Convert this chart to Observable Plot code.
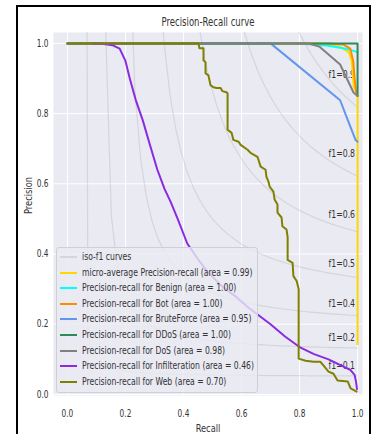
<!DOCTYPE html>
<html><head><meta charset="utf-8">
<script src="https://cdn.jsdelivr.net/npm/d3@7"></script>
<script src="https://cdn.jsdelivr.net/npm/@observablehq/plot@0.6"></script>
<style>
html,body{margin:0;padding:0;background:#fff;width:373px;height:434px;overflow:hidden;font-family:"DejaVu Sans",sans-serif;}
#wrap{position:relative;width:373px;height:434px;}
#chart{position:absolute;left:0;top:0;}
#frame{position:absolute;left:16px;top:5px;width:355px;height:460px;border:2px solid #000;box-sizing:border-box;pointer-events:none;}
#legend{position:absolute;left:56px;top:247px;width:202px;height:146px;box-sizing:border-box;border:1px solid #cfcfd4;border-radius:3px;background:rgba(234,234,242,0.8);padding-top:1px;}
.row{position:relative;height:15.6px;}
.hdl{position:absolute;left:3px;top:7px;width:17px;height:2px;}
.lbl{position:absolute;left:25px;top:0;line-height:15.6px;font-size:10.4px;color:#333;white-space:nowrap;transform:scaleX(0.74);transform-origin:0 50%;}
</style></head>
<body><div id="wrap"><div id="chart"></div><div id="legend"></div><div id="frame"></div></div>
<script>
// ---- data ----
const xTicks = [0, 0.2, 0.4, 0.6, 0.8, 1.0];
const yTicks = [0, 0.2, 0.4, 0.6, 0.8, 1.0];
const f1Scores = [0.1, 0.2333, 0.3667, 0.5, 0.6333, 0.7667, 0.9];
const f1Labels = ["f1=0.1", "f1=0.2", "f1=0.4", "f1=0.5", "f1=0.6", "f1=0.8", "f1=0.9"];

const seriesNames = ["micro-average Precision-recall (area = 0.99)",
  "Precision-recall for Benign (area = 1.00)",
  "Precision-recall for Bot (area = 1.00)",
  "Precision-recall for BruteForce (area = 0.95)",
  "Precision-recall for DDoS (area = 1.00)",
  "Precision-recall for DoS (area = 0.98)",
  "Precision-recall for Infilteration (area = 0.46)",
  "Precision-recall for Web (area = 0.70)"];
const seriesColors = ["#FFD700", "#00FFFF", "#FF8C00", "#6495ED", "#2E8B57", "#808080", "#8A2BE2", "#808000"];

const microRecall = [0, 0.85, 0.9, 0.94, 0.97, 0.98, 0.987, 0.997, 1.0, 1.0];
const microPrecision = [1, 1, 0.998, 0.99, 0.975, 0.95, 0.876, 0.862, 0.85, 0.143];
const benignRecall = [0, 0.8, 0.9, 0.96, 1.0];
const benignPrecision = [1, 1, 0.993, 0.985, 0.975];
const botRecall = [0, 0.9, 0.95, 0.975, 0.985, 0.99, 0.995];
const botPrecision = [1, 1, 0.997, 0.985, 0.95, 0.9, 0.86];
const bruteRecall = [0, 0.70, 0.94, 0.966, 0.993, 1.0];
const brutePrecision = [1, 1, 0.838, 0.782, 0.725, 0.72];
const ddosRecall = [0, 1.0, 1.0];
const ddosPrecision = [1, 1, 0.85];
const dosRecall = [0, 0.83, 0.87, 0.94, 0.986, 1.0];
const dosPrecision = [1, 1, 0.99, 0.94, 0.86, 0.85];
const infilRecall = [0.085, 0.12, 0.155, 0.18, 0.2, 0.215, 0.235, 0.26, 0.286, 0.31, 0.335, 0.355, 0.38, 0.413, 0.45, 0.483, 0.53, 0.586, 0.62, 0.66, 0.7, 0.75, 0.8, 0.85, 0.9, 0.95, 0.976, 0.99, 0.995, 0.998];
const infilPrecision = [1.0, 0.999, 0.995, 0.985, 0.95, 0.9, 0.84, 0.78, 0.706, 0.64, 0.585, 0.55, 0.5, 0.43, 0.385, 0.35, 0.31, 0.275, 0.25, 0.225, 0.2, 0.165, 0.135, 0.115, 0.1, 0.08, 0.069, 0.055, 0.035, 0.015];
const webRecall = [0, 0.452, 0.455, 0.469, 0.469, 0.476, 0.476, 0.486, 0.493, 0.503, 0.514, 0.528, 0.534, 0.548, 0.552, 0.552, 0.566, 0.572, 0.590, 0.597, 0.621, 0.631, 0.655, 0.666, 0.683, 0.686, 0.693, 0.697, 0.710, 0.714, 0.724, 0.724, 0.738, 0.741, 0.755, 0.759, 0.759, 0.776, 0.779, 0.79, 0.797, 0.797, 0.821, 0.848, 0.872, 0.883, 0.900, 0.917, 0.931, 0.966, 0.976, 0.997];
const webPrecision = [1, 1, 0.986, 0.986, 0.952, 0.946, 0.915, 0.909, 0.881, 0.875, 0.873, 0.873, 0.864, 0.861, 0.858, 0.754, 0.745, 0.725, 0.720, 0.711, 0.697, 0.688, 0.677, 0.649, 0.640, 0.620, 0.606, 0.592, 0.578, 0.555, 0.541, 0.518, 0.504, 0.479, 0.470, 0.448, 0.383, 0.375, 0.337, 0.323, 0.300, 0.102, 0.096, 0.093, 0.093, 0.082, 0.065, 0.059, 0.040, 0.037, 0.017, 0.008];

const seriesRecall = [microRecall, benignRecall, botRecall, bruteRecall, ddosRecall, dosRecall, infilRecall, webRecall];
const seriesPrecision = [microPrecision, benignPrecision, botPrecision, brutePrecision, ddosPrecision, dosPrecision, infilPrecision, webPrecision];

// ---- build tables ----
const isoX = d3.range(50).map(i => 0.01 + i * 0.99 / 49);
const isoData = [];
const isoLabelData = [];
f1Scores.forEach((f, k) => {
  isoX.forEach(x => { const y = f * x / (2 * x - f); if (y >= 0) isoData.push({f, r: x, p: y}); });
  const x45 = isoX[45];
  isoLabelData.push({r: 0.9, p: f * x45 / (2 * x45 - f) + 0.02, t: f1Labels[k]});
});
const prMarks = seriesRecall.map((R, k) =>
  Plot.line(R.map((r, i) => ({r, p: seriesPrecision[k][i]})), {x: "r", y: "p", stroke: seriesColors[k], strokeWidth: 2, clip: true}));

const plot = Plot.plot({
  width: 373, height: 434,
  marginLeft: 53, marginRight: 11, marginTop: 32, marginBottom: 39,
  style: {fontFamily: "DejaVu Sans", fontSize: "10px", color: "#333", background: "transparent"},
  x: {domain: [-0.048, 1.017], label: null},
  y: {domain: [-0.003, 1.031], label: null},
  marks: [
    Plot.frame({fill: "#EAEAF2", stroke: null}),
    Plot.gridX(xTicks, {stroke: "#fff", strokeOpacity: 1, strokeWidth: 1}),
    Plot.gridY(yTicks, {stroke: "#fff", strokeOpacity: 1, strokeWidth: 1}),
    Plot.line(isoData, {x: "r", y: "p", z: "f", stroke: "gray", strokeOpacity: 0.2, strokeWidth: 1.2, clip: true}),
    Plot.text(isoLabelData, {x: "r", y: "p", text: "t", textAnchor: "start", lineAnchor: "bottom", fontSize: 10.5, fill: "#333"}),
    ...prMarks,
    Plot.axisX(xTicks, {tickSize: 0, tickPadding: 14, tickFormat: d3.format(".1f"), label: null, fontSize: 10}),
    Plot.axisY(yTicks, {tickSize: 0, tickPadding: 5, tickFormat: d3.format(".1f"), label: null, fontSize: 10}),
    Plot.text(["Precision-Recall curve"], {frameAnchor: "top", text: d => d, dy: -10, lineAnchor: "middle", fontSize: 11.5, fill: "#333"}),
    Plot.text(["Recall"], {frameAnchor: "bottom", text: d => d, dy: 33, lineAnchor: "middle", fontSize: 11.2, fill: "#333"}),
    Plot.text(["Precision"], {frameAnchor: "left", text: d => d, dx: -25, rotate: -90, lineAnchor: "middle", fontSize: 11.2, fill: "#333"})
  ]
});
document.getElementById("chart").appendChild(plot);

// horizontally condense all text (the reference's type is narrow), keeping each anchor in place
const SQ = 0.74;
plot.querySelectorAll("text").forEach(t => {
  const b = t.getBBox();
  const anchor = getComputedStyle(t).textAnchor;
  const ax = anchor === "end" ? b.x + b.width : anchor === "middle" ? b.x + b.width / 2 : b.x;
  const tr = t.getAttribute("transform") || "";
  t.setAttribute("transform", `${tr} translate(${ax},0) scale(${SQ},1) translate(${-ax},0)`);
});

// ---- legend ----
const legend = document.getElementById("legend");
const legendNames = ["iso-f1 curves", ...seriesNames];
const legendColors = ["#d5d5db", ...seriesColors];
legendNames.forEach((n, i) => {
  const row = document.createElement("div"); row.className = "row";
  const h = document.createElement("span"); h.className = "hdl"; h.style.background = legendColors[i];
  const l = document.createElement("span"); l.className = "lbl"; l.textContent = n;
  row.appendChild(h); row.appendChild(l); legend.appendChild(row);
});
</script></body></html>
